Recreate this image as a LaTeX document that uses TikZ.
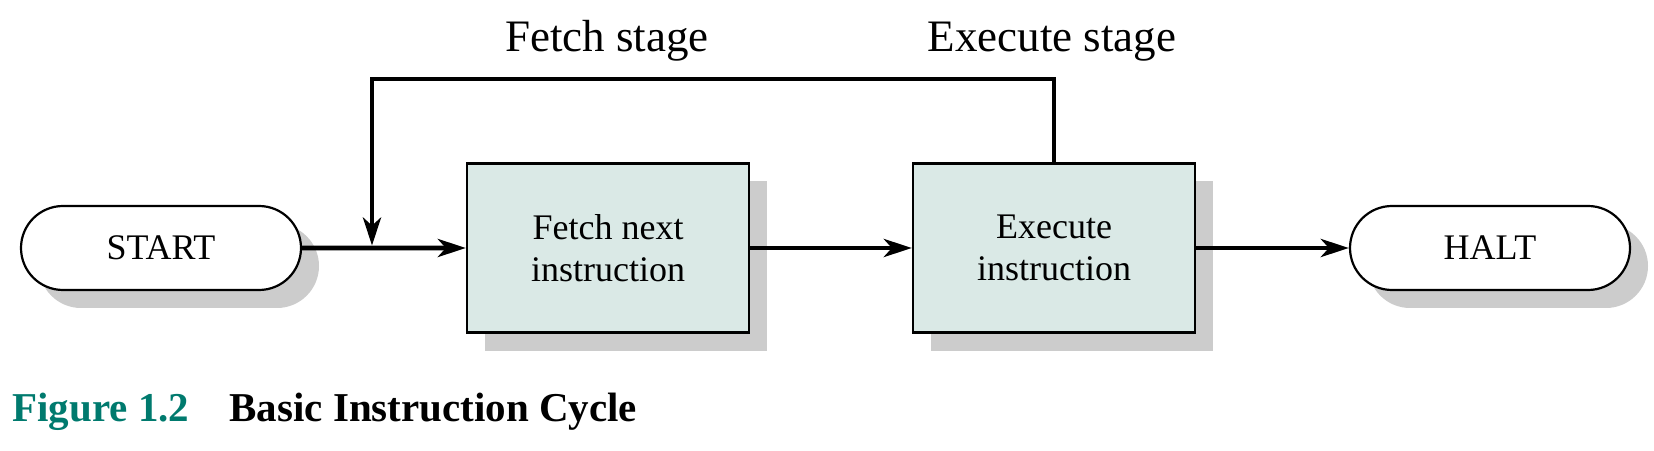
\documentclass[tikz,border=0pt]{standalone}
\usepackage{fontspec}
\setmainfont{Liberation Serif}
\usetikzlibrary{arrows.meta,shapes.misc,shadows}
\definecolor{boxfill}{RGB}{218,233,230}
\definecolor{shadowgray}{RGB}{204,204,204}
\definecolor{figteal}{RGB}{0,122,110}
\tikzset{
  shade/.style={drop shadow={shadow xshift=9pt,shadow yshift=-9pt,fill=shadowgray,opacity=1}},
  terminal/.style={rounded rectangle,draw,line width=1.1pt,fill=white,shade,
    minimum width=140pt,minimum height=42pt,inner sep=0pt,font=\fontsize{18}{21}\selectfont},
  stagebox/.style={rectangle,draw,line width=1.1pt,fill=boxfill,shade,
    minimum width=141pt,minimum height=84.5pt,inner sep=0pt,align=center,
    font=\fontsize{18}{21}\selectfont},
  flow/.style={line width=2.4pt,-{Stealth[length=14pt,width=9pt,inset=4pt]}},
  stagelbl/.style={anchor=base,inner sep=0pt,font=\fontsize{22.5}{27}\selectfont},
  caption/.style={anchor=base west,inner sep=0pt,font=\fontsize{20.5}{24}\selectfont\bfseries}
}
\begin{document}
\begin{tikzpicture}[x=0.5pt,y=0.5pt]
\useasboundingbox (0,0) rectangle (1654,450);

\node[terminal] (start) at (161,202) {START};
\node[stagebox] (fetch) at (608,202) {Fetch next\\instruction};
\node[stagebox] (exec) at (1054,202) {Execute\\instruction};
\node[terminal] (halt) at (1490,202) {HALT};

\coordinate (join) at (372,202);
\coordinate (loop) at (372,371);

\draw[flow] (start) -- (fetch);
\draw[flow] (fetch) -- (exec);
\draw[flow] (exec) -- (halt);
\draw[flow,shorten >=1.2pt] (exec.north) |- (loop) -- (join);

\node[stagelbl] (fetchlbl) at (607,398) {Fetch stage};
\node[stagelbl] (execlbl) at (1052,398) {Execute stage};

\node[caption,text=figteal] (fignum) at (12,29) {Figure 1.2};
\node[caption] (figtitle) at (229,29) {Basic Instruction Cycle};
\end{tikzpicture}
\end{document}
